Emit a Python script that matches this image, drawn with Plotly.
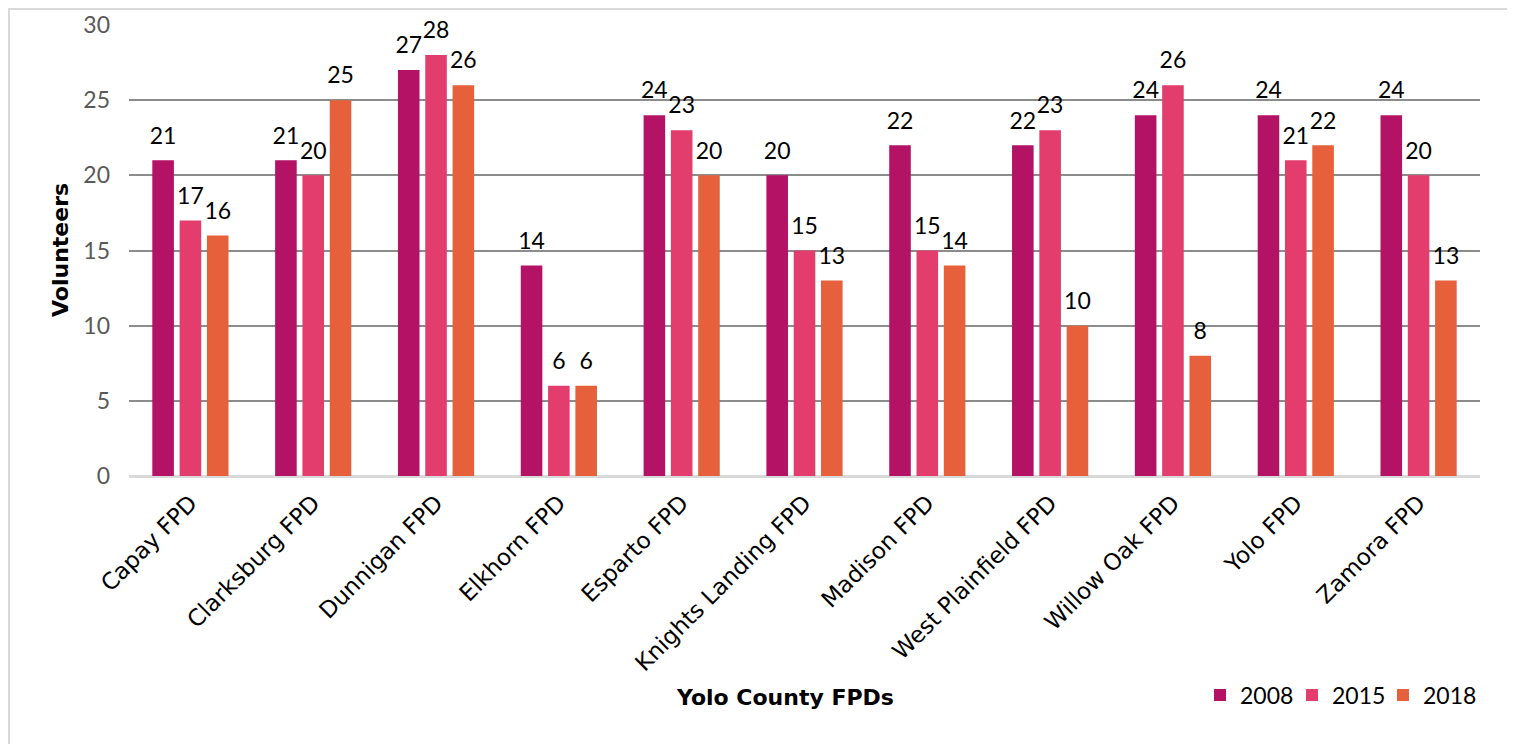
import plotly.graph_objects as go

categories = ["Capay FPD", "Clarksburg FPD", "Dunnigan FPD", "Elkhorn FPD", "Esparto FPD",
              "Knights Landing FPD", "Madison FPD", "West Plainfield FPD", "Willow Oak FPD",
              "Yolo FPD", "Zamora FPD"]
v2008 = [21, 21, 27, 14, 24, 20, 22, 22, 24, 24, 24]
v2015 = [17, 20, 28, 6, 23, 15, 15, 23, 26, 21, 20]
v2018 = [16, 25, 26, 6, 20, 13, 14, 10, 8, 22, 13]
series = [("2008", v2008, "#B31265"), ("2015", v2015, "#E33D6E"), ("2018", v2018, "#E5603B")]

FONT = "Lato"
WFONT = "DejaVu Sans"
W, H = 1515, 744
OFF = 8  # page body margin
# desired plot area in page pixels
PL, PR, PT, PB = 129, 1480, 25, 476
L, T = PL - OFF, PT - OFF
R = W - (PR - OFF)
B = H - (PB - OFF)
pw, ph = PR - PL, PB - PT


def px(xp):
    return (xp - PL) / pw


def py(yp):
    return (PB - yp) / ph


BARGAP = 0.333
LEGENDS = ["legend", "legend2", "legend3"]
LEG_X = [1200, 1292, 1383]

fig = go.Figure()
for i, (name, vals, col) in enumerate(series):
    fig.add_trace(go.Bar(
        name=name, x=categories, y=vals, offsetgroup=str(i), legend=LEGENDS[i],
        marker=dict(color=col, line=dict(width=0)), hoverinfo="skip",
    ))
for i, (name, vals, col) in enumerate(series):
    fig.add_trace(go.Scatter(
        name=name, x=categories, y=vals, offsetgroup=str(i), mode="markers+text",
        text=[str(v) for v in vals], textposition="top center", cliponaxis=False,
        marker=dict(size=16, color="rgba(0,0,0,0)"), showlegend=False, hoverinfo="skip",
        textfont=dict(family=FONT, size=23, color="#000000"),
    ))

legend_style = {}
for i, lg in enumerate(LEGENDS):
    legend_style[lg] = dict(orientation="h", x=px(LEG_X[i]), xanchor="left",
                            y=py(695), yanchor="middle", itemwidth=30,
                            bgcolor="rgba(0,0,0,0)",
                            font=dict(family=FONT, size=23, color="#000000"))

fig.update_layout(
    width=W, height=H, barmode="group", bargap=BARGAP, bargroupgap=0.21,
    scattermode="group", scattergap=BARGAP,
    margin=dict(l=L, r=R, t=T, b=B, autoexpand=False),
    plot_bgcolor="white", paper_bgcolor="white",
    font=dict(family=FONT),
    xaxis=dict(tickangle=-45, tickfont=dict(family=WFONT, size=23, color="#000000"),
               showline=False, ticks="", showgrid=False, ticklabelstandoff=8),
    yaxis=dict(range=[0, 30], dtick=5, tickfont=dict(family=FONT, size=23, color="#595959"),
               gridcolor="#8C8C8C", gridwidth=1.5, zeroline=True, zerolinecolor="#D9D9D9",
               zerolinewidth=2.5, ticks="", ticklabelstandoff=18),
    showlegend=True,
    **legend_style,
)

fig.add_annotation(text="<b>Yolo County FPDs</b>", xref="paper", yref="paper",
                   x=px(785), y=py(697), xanchor="center", yanchor="middle", showarrow=False,
                   font=dict(family=WFONT, size=22, color="#000000"))
fig.add_annotation(text="<b>Volunteers</b>", xref="paper", yref="paper",
                   x=px(60), y=py(250), xanchor="center", yanchor="middle",
                   textangle=-90, showarrow=False,
                   font=dict(family=WFONT, size=22, color="#000000"))
fig.add_shape(type="rect", xref="paper", yref="paper",
              x0=px(9), x1=px(1508), y0=py(760), y1=py(9),
              line=dict(color="#D9D9D9", width=2), layer="below")

fig.write_html("out.html")
